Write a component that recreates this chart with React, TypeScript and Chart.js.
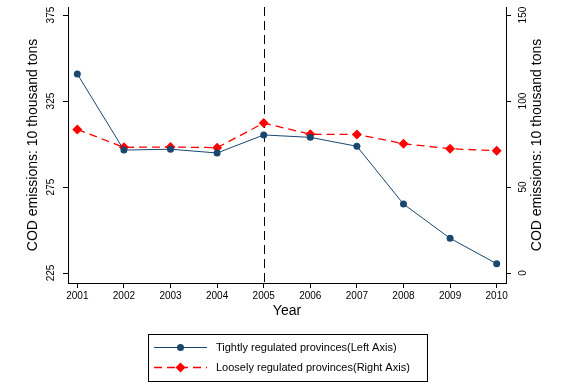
import React, { useEffect, useRef } from "react";
import { Chart, registerables } from "chart.js";

Chart.register(...registerables);

const years = [2001, 2002, 2003, 2004, 2005, 2006, 2007, 2008, 2009, 2010];
const tightValues = [340.7, 296.5, 297.0, 294.8, 305.3, 303.9, 298.7, 265.1, 245.2, 230.4];
const looseValues = [83.5, 73.1, 73.3, 72.9, 87.2, 80.7, 80.6, 75.2, 72.3, 71.1];
const leftTicks = [225, 275, 325, 375];
const rightTicks = [0, 50, 100, 150];
const tightLabel = "Tightly regulated provinces(Left Axis)";
const looseLabel = "Loosely regulated provinces(Right Axis)";
const axisTitle = "COD emissions: 10 thousand tons";
const xTitle = "Year";
const policyYear = 2005;

const NAVY = "#1a476f";
const RED = "#ff0000";
const FONT = "'Liberation Sans', Arial, sans-serif";

const vlinePlugin = {
  id: "vline",
  beforeDatasetsDraw(chart: any) {
    const { ctx, chartArea, scales } = chart;
    const x = Math.round(scales.x.getPixelForValue(policyYear)) + 0.5;
    ctx.save();
    ctx.strokeStyle = "#000";
    ctx.lineWidth = 1;
    ctx.setLineDash([9, 5]);
    ctx.beginPath();
    ctx.moveTo(x, chartArea.top);
    ctx.lineTo(x, chartArea.bottom);
    ctx.stroke();
    ctx.restore();
  },
};

const rightTitlePlugin = {
  id: "rightTitle",
  afterDraw(chart: any) {
    const { ctx, chartArea } = chart;
    ctx.save();
    ctx.translate(537, (chartArea.top + chartArea.bottom) / 2);
    ctx.rotate(-Math.PI / 2);
    ctx.fillStyle = "#000";
    ctx.font = `14px ${FONT}`;
    ctx.textAlign = "center";
    ctx.textBaseline = "middle";
    ctx.fillText(axisTitle, 0, 0);
    ctx.restore();
  },
};

const legendPlugin = {
  id: "boxLegend",
  afterDraw(chart: any) {
    const { ctx } = chart;
    ctx.save();
    ctx.strokeStyle = "#000";
    ctx.lineWidth = 1;
    ctx.strokeRect(148.5, 334.5, 279, 47);
    const rows = [
      { y: 347, label: tightLabel, color: NAVY, dash: [] as number[], marker: "circle" },
      { y: 367, label: looseLabel, color: RED, dash: [8, 5], marker: "diamond" },
    ];
    for (const r of rows) {
      ctx.strokeStyle = r.color;
      ctx.lineWidth = r.marker === "diamond" ? 1.3 : 1;
      ctx.setLineDash(r.dash);
      ctx.beginPath();
      ctx.moveTo(154, r.y + 0.5);
      ctx.lineTo(207, r.y + 0.5);
      ctx.stroke();
      ctx.setLineDash([]);
      ctx.fillStyle = r.color;
      ctx.beginPath();
      if (r.marker === "circle") {
        ctx.arc(180.5, r.y + 0.5, 3.5, 0, Math.PI * 2);
      } else {
        ctx.moveTo(180.5, r.y - 4.5);
        ctx.lineTo(185.5, r.y + 0.5);
        ctx.lineTo(180.5, r.y + 5.5);
        ctx.lineTo(175.5, r.y + 0.5);
        ctx.closePath();
      }
      ctx.fill();
      ctx.fillStyle = "#000";
      ctx.font = `11px ${FONT}`;
      ctx.textBaseline = "middle";
      ctx.textAlign = "left";
      ctx.fillText(r.label, 216, r.y + 1);
    }
    ctx.restore();
  },
};

export default function App() {
  const ref = useRef<HTMLCanvasElement>(null);
  useEffect(() => {
    document.body.style.margin = "0";
    const chart = new Chart(ref.current!, {
      type: "line",
      data: {
        datasets: [
          {
            label: tightLabel,
            data: years.map((y, i) => ({ x: y, y: tightValues[i] })),
            borderColor: NAVY,
            backgroundColor: NAVY,
            borderWidth: 1,
            pointStyle: "circle",
            pointRadius: 3.5,
            pointBorderWidth: 0,
            yAxisID: "y",
          },
          {
            label: looseLabel,
            data: years.map((y, i) => ({ x: y, y: looseValues[i] })),
            borderColor: RED,
            backgroundColor: RED,
            borderWidth: 1.3,
            borderDash: [8, 5],
            pointStyle: "rectRot",
            pointRadius: 5,
            pointBorderWidth: 0,
            yAxisID: "y2",
          },
        ],
      },
      options: {
        animation: false,
        responsive: false,
        layout: { padding: { top: 7, bottom: 58, left: 0, right: 0 } },
        plugins: { legend: { display: false }, tooltip: { enabled: false } },
        scales: {
          x: {
            type: "linear",
            min: 2000.8,
            max: 2010.2,
            afterBuildTicks: (s: any) => {
              s.ticks = years.map((v) => ({ value: v }));
            },
            afterFit: (s: any) => {
              s.height = 45;
            },
            ticks: {
              callback: (v: any) => String(v),
              color: "#000",
              font: { family: FONT, size: 10 },
              padding: 2,
              maxRotation: 0,
              autoSkip: false,
            },
            grid: { drawOnChartArea: false, drawTicks: true, tickLength: 5, color: "#000" },
            border: { color: "#000", width: 1 },
            title: { display: true, text: xTitle, color: "#000", font: { family: FONT, size: 14 }, padding: { top: 0, bottom: 8 } },
          },
          y: {
            position: "left",
            min: 219.2,
            max: 379.7,
            afterBuildTicks: (s: any) => {
              s.ticks = leftTicks.map((v) => ({ value: v }));
            },
            afterFit: (s: any) => {
              s.width = 68;
              s.paddingTop = 0;
              s.paddingBottom = 0;
            },
            ticks: {
              color: "#000",
              font: { family: FONT, size: 10 },
              minRotation: 90,
              maxRotation: 90,
              crossAlign: "center",
              padding: 3,
            },
            grid: { drawOnChartArea: false, drawTicks: true, tickLength: 5, color: "#000" },
            border: { color: "#000", width: 1 },
            title: { display: true, text: axisTitle, color: "#000", font: { family: FONT, size: 14 }, padding: { top: 25, bottom: 0 } },
          },
          y2: {
            position: "right",
            min: -5.8,
            max: 154.7,
            afterBuildTicks: (s: any) => {
              s.ticks = rightTicks.map((v) => ({ value: v }));
            },
            afterFit: (s: any) => {
              s.width = 63;
              s.paddingTop = 0;
              s.paddingBottom = 0;
            },
            ticks: {
              color: "#000",
              font: { family: FONT, size: 10 },
              minRotation: 90,
              maxRotation: 90,
              crossAlign: "center",
              padding: 4,
            },
            grid: { drawOnChartArea: false, drawTicks: true, tickLength: 5, color: "#000" },
            border: { color: "#000", width: 1 },
            title: { display: false },
          },
        },
      },
      plugins: [vlinePlugin, legendPlugin, rightTitlePlugin],
    } as any);
    return () => chart.destroy();
  }, []);
  return (
    <div style={{ width: 569, height: 386, background: "#fff" }}>
      <canvas ref={ref} width={569} height={386} style={{ display: "block" }} />
    </div>
  );
}
